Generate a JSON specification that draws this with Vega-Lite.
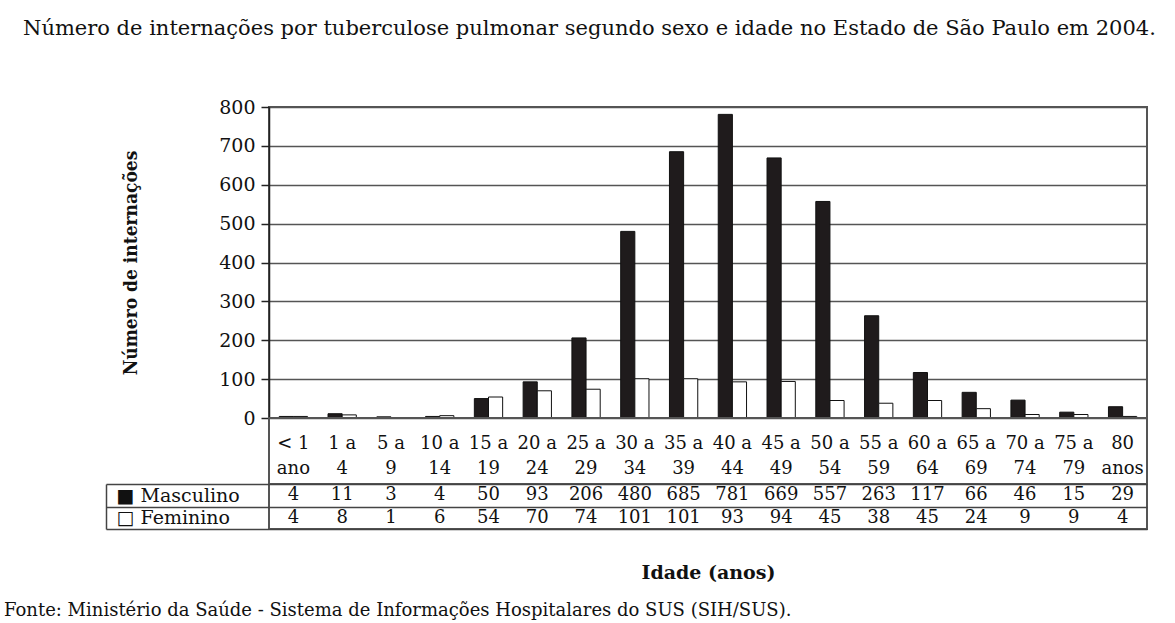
{
  "$schema": "https://vega.github.io/schema/vega-lite/v6.json",
  "padding": {"left": 3, "top": 18, "right": 5, "bottom": 0},
  "background": "white",
  "title": {
    "text": "Número de internações por tuberculose pulmonar segundo sexo e idade no Estado de São Paulo em 2004.",
    "anchor": "start",
    "frame": "group",
    "font": "DejaVu Serif",
    "fontSize": 21,
    "fontWeight": "normal",
    "color": "#111",
    "offset": 58,
    "dx": -246
  },
  "spacing": 0,
  "bounds": "flush",
  "datasets": {
    "faixas": [
      {"faixa": "< 1\nano"}, {"faixa": "1 a\n4"}, {"faixa": "5 a\n9"}, {"faixa": "10 a\n14"},
      {"faixa": "15 a\n19"}, {"faixa": "20 a\n24"}, {"faixa": "25 a\n29"}, {"faixa": "30 a\n34"},
      {"faixa": "35 a\n39"}, {"faixa": "40 a\n44"}, {"faixa": "45 a\n49"}, {"faixa": "50 a\n54"},
      {"faixa": "55 a\n59"}, {"faixa": "60 a\n64"}, {"faixa": "65 a\n69"}, {"faixa": "70 a\n74"},
      {"faixa": "75 a\n79"}, {"faixa": "80\nanos"}
    ],
    "casos": [
      {"faixa": "< 1\nano", "sexo": "Masculino", "n": 4},
      {"faixa": "1 a\n4", "sexo": "Masculino", "n": 11},
      {"faixa": "5 a\n9", "sexo": "Masculino", "n": 3},
      {"faixa": "10 a\n14", "sexo": "Masculino", "n": 4},
      {"faixa": "15 a\n19", "sexo": "Masculino", "n": 50},
      {"faixa": "20 a\n24", "sexo": "Masculino", "n": 93},
      {"faixa": "25 a\n29", "sexo": "Masculino", "n": 206},
      {"faixa": "30 a\n34", "sexo": "Masculino", "n": 480},
      {"faixa": "35 a\n39", "sexo": "Masculino", "n": 685},
      {"faixa": "40 a\n44", "sexo": "Masculino", "n": 781},
      {"faixa": "45 a\n49", "sexo": "Masculino", "n": 669},
      {"faixa": "50 a\n54", "sexo": "Masculino", "n": 557},
      {"faixa": "55 a\n59", "sexo": "Masculino", "n": 263},
      {"faixa": "60 a\n64", "sexo": "Masculino", "n": 117},
      {"faixa": "65 a\n69", "sexo": "Masculino", "n": 66},
      {"faixa": "70 a\n74", "sexo": "Masculino", "n": 46},
      {"faixa": "75 a\n79", "sexo": "Masculino", "n": 15},
      {"faixa": "80\nanos", "sexo": "Masculino", "n": 29},
      {"faixa": "< 1\nano", "sexo": "Feminino", "n": 4},
      {"faixa": "1 a\n4", "sexo": "Feminino", "n": 8},
      {"faixa": "5 a\n9", "sexo": "Feminino", "n": 1},
      {"faixa": "10 a\n14", "sexo": "Feminino", "n": 6},
      {"faixa": "15 a\n19", "sexo": "Feminino", "n": 54},
      {"faixa": "20 a\n24", "sexo": "Feminino", "n": 70},
      {"faixa": "25 a\n29", "sexo": "Feminino", "n": 74},
      {"faixa": "30 a\n34", "sexo": "Feminino", "n": 101},
      {"faixa": "35 a\n39", "sexo": "Feminino", "n": 101},
      {"faixa": "40 a\n44", "sexo": "Feminino", "n": 93},
      {"faixa": "45 a\n49", "sexo": "Feminino", "n": 94},
      {"faixa": "50 a\n54", "sexo": "Feminino", "n": 45},
      {"faixa": "55 a\n59", "sexo": "Feminino", "n": 38},
      {"faixa": "60 a\n64", "sexo": "Feminino", "n": 45},
      {"faixa": "65 a\n69", "sexo": "Feminino", "n": 24},
      {"faixa": "70 a\n74", "sexo": "Feminino", "n": 9},
      {"faixa": "75 a\n79", "sexo": "Feminino", "n": 9},
      {"faixa": "80\nanos", "sexo": "Feminino", "n": 4}
    ]
  },
  "config": {
    "font": "DejaVu Serif",
    "view": {"stroke": "#555", "strokeWidth": 2},
    "concat": {"spacing": 0}
  },
  "vconcat": [
    {
      "width": 878,
      "height": 311,
      "data": {"name": "casos"},
      "mark": {"type": "bar", "stroke": "#111", "strokeWidth": 1},
      "encoding": {
        "x": {
          "field": "faixa", "type": "nominal", "sort": null,
          "scale": {"domain": ["< 1\nano", "1 a\n4", "5 a\n9", "10 a\n14", "15 a\n19", "20 a\n24", "25 a\n29", "30 a\n34", "35 a\n39", "40 a\n44", "45 a\n49", "50 a\n54", "55 a\n59", "60 a\n64", "65 a\n69", "70 a\n74", "75 a\n79", "80\nanos"], "paddingInner": 0.42, "paddingOuter": 0.21},
          "axis": null
        },
        "xOffset": {"field": "sexo", "type": "nominal", "scale": {"domain": ["Masculino", "Feminino"]}},
        "y": {
          "field": "n", "type": "quantitative",
          "scale": {"domain": [0, 800]},
          "axis": {
            "title": "Número de internações",
            "values": [0, 100, 200, 300, 400, 500, 600, 700, 800],
            "grid": true, "gridColor": "#555", "gridWidth": 1.5,
            "domainColor": "#222", "domainWidth": 1.5,
            "tickColor": "#222", "tickSize": 8, "tickWidth": 1.5,
            "labelFontSize": 19, "labelColor": "#111", "labelPadding": 6,
            "titleFont": "DejaVu Serif Condensed", "titleFontSize": 19, "titleFontWeight": "bold", "titleColor": "#111", "titlePadding": 78
          }
        },
        "color": {
          "field": "sexo", "type": "nominal",
          "scale": {"domain": ["Masculino", "Feminino"], "range": ["#1f1b1c", "#ffffff"]},
          "legend": null
        }
      }
    },
    {
      "width": 878,
      "height": 66,
      "data": {"name": "faixas"},
      "mark": {"type": "text", "lineBreak": "\n", "lineHeight": 25, "fontSize": 18, "color": "#111", "dy": -7},
      "encoding": {
        "x": {
          "field": "faixa", "type": "nominal", "sort": null,
          "scale": {"domain": ["< 1\nano", "1 a\n4", "5 a\n9", "10 a\n14", "15 a\n19", "20 a\n24", "25 a\n29", "30 a\n34", "35 a\n39", "40 a\n44", "45 a\n49", "50 a\n54", "55 a\n59", "60 a\n64", "65 a\n69", "70 a\n74", "75 a\n79", "80\nanos"]},
          "axis": null
        },
        "text": {"field": "faixa"}
      }
    },
    {
      "width": 878,
      "height": 45,
      "data": {"name": "casos"},
      "title": {
        "text": "Fonte: Ministério da Saúde - Sistema de Informações Hospitalares do SUS (SIH/SUS).",
        "orient": "bottom", "anchor": "start", "frame": "group",
        "fontSize": 18, "fontWeight": "normal", "color": "#111",
        "dx": -265, "offset": 20
      },
      "mark": {"type": "text", "fontSize": 18, "color": "#111"},
      "encoding": {
        "x": {
          "field": "faixa", "type": "nominal", "sort": null,
          "scale": {"domain": ["< 1\nano", "1 a\n4", "5 a\n9", "10 a\n14", "15 a\n19", "20 a\n24", "25 a\n29", "30 a\n34", "35 a\n39", "40 a\n44", "45 a\n49", "50 a\n54", "55 a\n59", "60 a\n64", "65 a\n69", "70 a\n74", "75 a\n79", "80\nanos"]},
          "axis": {
            "title": "Idade (anos)", "orient": "bottom",
            "labels": false, "ticks": false, "domain": false,
            "titleFontSize": 19, "titleFontWeight": "bold", "titleColor": "#111", "titlePadding": 34
          }
        },
        "y": {
          "field": "sexo", "type": "nominal",
          "scale": {"type": "band", "domain": ["Masculino", "Feminino"], "paddingInner": 0, "paddingOuter": 0},
          "axis": {
            "title": null, "offset": 163, "tickBand": "extent",
            "tickSize": -163, "tickColor": "#444", "tickWidth": 1.5,
            "domainColor": "#444", "domainWidth": 1.5,
            "grid": true, "gridColor": "#444", "gridWidth": 1.5,
            "labelAlign": "left", "labelPadding": 153, "labelFontSize": 19, "labelColor": "#111",
            "labelExpr": "datum.label == 'Masculino' ? '■ Masculino' : (datum.label == 'Feminino' ? '□ Feminino' : '')"
          }
        },
        "text": {"field": "n"}
      }
    }
  ]
}
